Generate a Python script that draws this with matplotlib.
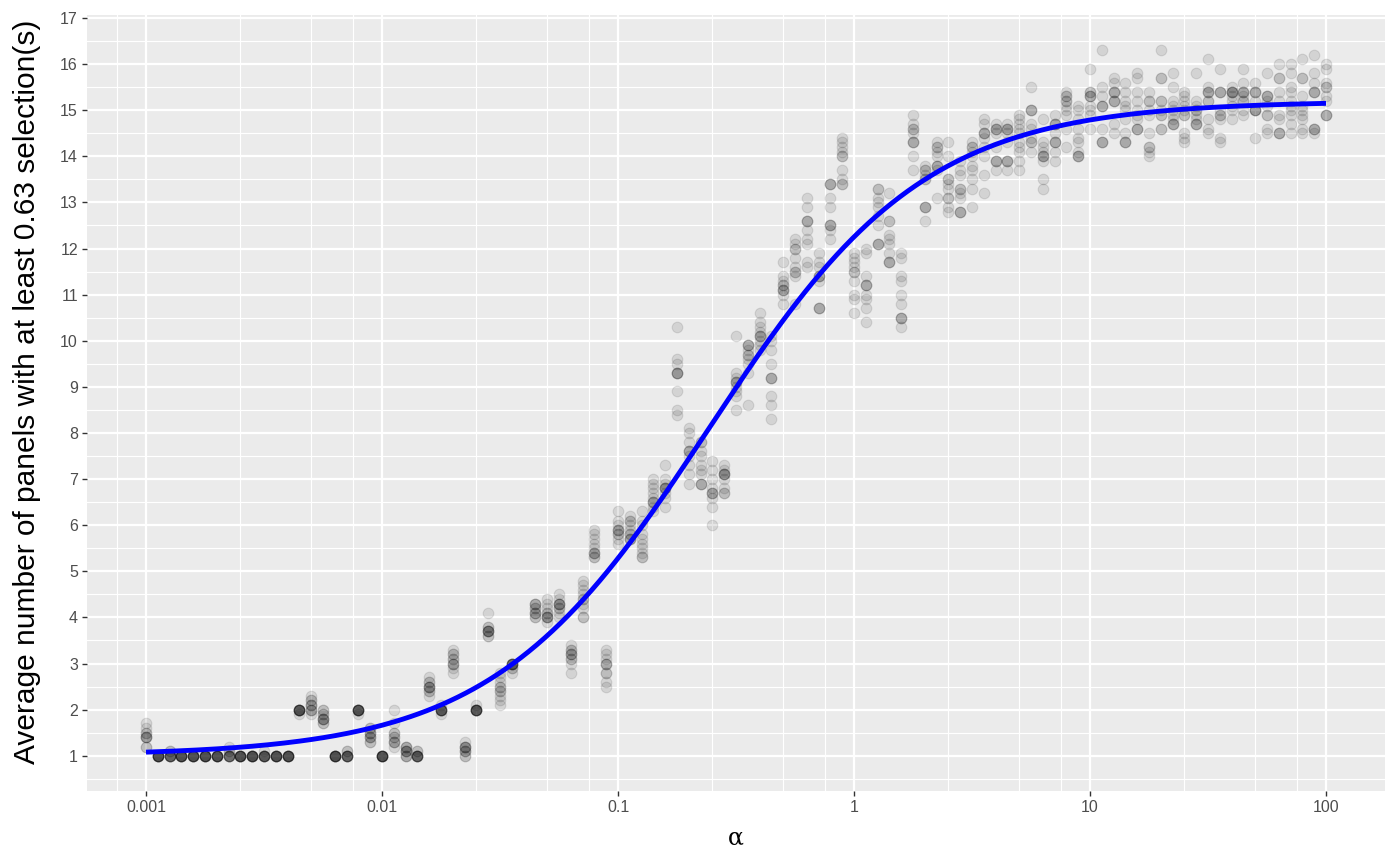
import numpy as np
import matplotlib
matplotlib.use("Agg")
import matplotlib.pyplot as plt
from matplotlib.ticker import FixedLocator, NullFormatter

# alpha grid (20 values per decade, 0.001 .. 100)
alpha = [
    0.001, 0.001122, 0.001259, 0.001413, 0.001585, 0.001778, 0.001995, 0.002239, 0.002512, 0.002818,
    0.003162, 0.003548, 0.003981, 0.004467, 0.005012, 0.005623, 0.00631, 0.007079, 0.007943, 0.008913,
    0.01, 0.01122, 0.01259, 0.01413, 0.01585, 0.01778, 0.01995, 0.02239, 0.02512, 0.02818,
    0.03162, 0.03548, 0.03981, 0.04467, 0.05012, 0.05623, 0.0631, 0.07079, 0.07943, 0.08913,
    0.1, 0.1122, 0.1259, 0.1413, 0.1585, 0.1778, 0.1995, 0.2239, 0.2512, 0.2818,
    0.3162, 0.3548, 0.3981, 0.4467, 0.5012, 0.5623, 0.631, 0.7079, 0.7943, 0.8913,
    1.0, 1.122, 1.259, 1.413, 1.585, 1.778, 1.995, 2.239, 2.512, 2.818,
    3.162, 3.548, 3.981, 4.467, 5.012, 5.623, 6.31, 7.079, 7.943, 8.913,
    10.0, 11.22, 12.59, 14.13, 15.85, 17.78, 19.95, 22.39, 25.12, 28.18,
    31.62, 35.48, 39.81, 44.67, 50.12, 56.23, 63.1, 70.79, 79.43, 89.13,
    100.0,
]

# average number of panels, 10 replicates per alpha value (none at 0.03981)
avg_panels = [
    # 0.001 - 0.01
    [1.2, 1.2, 1.4, 1.4, 1.4, 1.4, 1.5, 1.5, 1.6, 1.7],
    [1.0] * 10,
    [1.0] * 8 + [1.1, 1.1],
    [1.0] * 10,
    [1.0] * 10,
    [1.0] * 10,
    [1.0] * 10,
    [1.0] * 7 + [1.1, 1.1, 1.2],
    [1.0] * 10,
    [1.0] * 10,
    [1.0] * 9 + [1.1],
    [1.0] * 10,
    [1.0] * 10,
    [2.0] * 9 + [1.9],
    [1.9, 2.0, 2.0, 2.0, 2.1, 2.1, 2.1, 2.2, 2.2, 2.3],
    [1.7, 1.7, 1.8, 1.8, 1.8, 1.9, 1.9, 2.0, 2.0, 1.8],
    [1.0] * 10,
    [1.0] * 8 + [1.1, 1.1],
    [2.0] * 9 + [1.9],
    [1.3, 1.3, 1.4, 1.4, 1.4, 1.5, 1.5, 1.5, 1.6, 1.6],
    # 0.01 - 0.1
    [1.0] * 10,
    [1.2, 1.3, 1.3, 1.3, 1.4, 1.4, 1.5, 1.5, 1.7, 2.0],
    [1.0, 1.0, 1.0, 1.1, 1.1, 1.1, 1.2, 1.2, 1.2, 1.1],
    [1.0] * 8 + [1.1, 1.1],
    [2.3, 2.4, 2.4, 2.5, 2.5, 2.5, 2.5, 2.6, 2.6, 2.7],
    [2.0] * 8 + [2.1, 1.9],
    [2.8, 2.9, 3.0, 3.0, 3.0, 3.1, 3.1, 3.2, 3.2, 3.3],
    [1.0, 1.0, 1.1, 1.1, 1.1, 1.2, 1.2, 1.2, 1.2, 1.3],
    [2.0] * 9 + [2.1],
    [3.6, 3.6, 3.7, 3.7, 3.7, 3.7, 3.7, 3.8, 3.8, 4.1],
    [2.1, 2.2, 2.3, 2.4, 2.4, 2.5, 2.5, 2.6, 2.7, 2.8],
    [2.8, 2.9, 2.9, 3.0, 3.0, 3.0, 3.0, 3.0, 3.0, 3.0],
    [],
    [4.0, 4.0, 4.1, 4.1, 4.1, 4.2, 4.2, 4.3, 4.3, 4.3],
    [3.9, 4.0, 4.0, 4.0, 4.0, 4.1, 4.1, 4.2, 4.3, 4.4],
    [4.0, 4.1, 4.2, 4.2, 4.3, 4.3, 4.3, 4.3, 4.4, 4.5],
    [2.8, 3.0, 3.1, 3.1, 3.2, 3.2, 3.2, 3.3, 3.3, 3.4],
    [4.0, 4.0, 4.2, 4.3, 4.4, 4.4, 4.5, 4.6, 4.7, 4.8],
    [5.3, 5.3, 5.4, 5.4, 5.4, 5.5, 5.6, 5.7, 5.8, 5.9],
    [2.5, 2.6, 2.8, 2.8, 3.0, 3.0, 3.0, 3.1, 3.2, 3.3],
    # 0.1 - 1
    [5.6, 5.7, 5.8, 5.8, 5.9, 5.9, 5.9, 6.0, 6.1, 6.3],
    [5.7, 5.7, 5.7, 5.8, 5.8, 5.9, 6.0, 6.1, 6.1, 6.2],
    [5.3, 5.3, 5.4, 5.5, 5.6, 5.7, 5.8, 6.0, 6.1, 6.3],
    [6.3, 6.4, 6.5, 6.5, 6.5, 6.6, 6.7, 6.8, 6.9, 7.0],
    [6.4, 6.6, 6.7, 6.8, 6.8, 6.8, 6.8, 6.9, 7.0, 7.3],
    [8.4, 8.5, 8.9, 9.3, 9.3, 9.3, 9.3, 9.5, 9.6, 10.3],
    [6.9, 7.1, 7.3, 7.5, 7.6, 7.6, 7.6, 7.8, 8.0, 8.1],
    [6.9, 6.9, 6.9, 7.1, 7.2, 7.3, 7.5, 7.6, 7.8, 7.8],
    [6.0, 6.4, 6.6, 6.7, 6.7, 6.7, 6.8, 7.0, 7.2, 7.4],
    [6.7, 6.7, 6.8, 7.0, 7.1, 7.1, 7.1, 7.1, 7.2, 7.3],
    [8.5, 8.8, 8.9, 9.0, 9.1, 9.1, 9.1, 9.2, 9.3, 10.1],
    [8.6, 9.3, 9.5, 9.6, 9.7, 9.7, 9.8, 9.9, 9.9, 9.9],
    [9.8, 9.9, 10.0, 10.1, 10.1, 10.1, 10.2, 10.3, 10.4, 10.6],
    [8.3, 8.6, 8.8, 9.2, 9.2, 9.2, 9.5, 9.8, 10.0, 10.1],
    [10.8, 11.0, 11.1, 11.1, 11.1, 11.2, 11.2, 11.3, 11.4, 11.7],
    [10.8, 11.4, 11.5, 11.5, 11.6, 11.8, 12.0, 12.0, 12.1, 12.2],
    [11.6, 11.7, 12.1, 12.2, 12.4, 12.6, 12.6, 12.6, 12.9, 13.1],
    [10.7, 10.7, 10.7, 11.3, 11.4, 11.4, 11.4, 11.6, 11.7, 11.9],
    [12.2, 12.4, 12.5, 12.5, 12.5, 12.9, 13.1, 13.4, 13.4, 13.4],
    [13.4, 13.4, 13.5, 13.7, 14.0, 14.0, 14.1, 14.2, 14.3, 14.4],
    # 1 - 10
    [10.6, 10.9, 11.0, 11.3, 11.5, 11.5, 11.6, 11.7, 11.8, 11.9],
    [10.4, 10.7, 10.9, 11.0, 11.2, 11.2, 11.2, 11.4, 11.9, 12.0],
    [12.1, 12.1, 12.1, 12.5, 12.7, 12.9, 13.0, 13.1, 13.3, 13.3],
    [11.7, 11.7, 11.7, 11.9, 12.1, 12.2, 12.3, 12.6, 12.6, 13.2],
    [10.3, 10.5, 10.5, 10.5, 10.8, 11.0, 11.3, 11.4, 11.8, 11.9],
    [13.7, 14.0, 14.3, 14.3, 14.3, 14.5, 14.6, 14.6, 14.7, 14.9],
    [12.6, 12.9, 12.9, 12.9, 13.5, 13.5, 13.6, 13.7, 13.7, 13.8],
    [13.1, 13.7, 13.8, 13.8, 13.8, 14.0, 14.1, 14.2, 14.2, 14.3],
    [12.8, 12.9, 13.1, 13.1, 13.3, 13.4, 13.5, 13.5, 14.0, 14.3],
    [12.8, 12.8, 12.8, 13.1, 13.2, 13.3, 13.3, 13.6, 13.7, 13.9],
    [12.9, 13.3, 13.5, 13.7, 13.8, 14.0, 14.1, 14.2, 14.2, 14.3],
    [13.2, 13.6, 14.0, 14.2, 14.4, 14.5, 14.5, 14.5, 14.7, 14.8],
    [13.7, 13.9, 13.9, 13.9, 14.2, 14.5, 14.6, 14.6, 14.6, 14.7],
    [13.7, 13.9, 13.9, 13.9, 14.3, 14.5, 14.6, 14.6, 14.6, 14.7],
    [13.7, 13.9, 14.1, 14.2, 14.3, 14.5, 14.6, 14.7, 14.8, 14.9],
    [14.1, 14.3, 14.3, 14.4, 14.6, 14.7, 15.0, 15.0, 15.0, 15.5],
    [13.3, 13.5, 13.9, 14.0, 14.0, 14.0, 14.1, 14.2, 14.3, 14.8],
    [13.9, 14.1, 14.3, 14.3, 14.3, 14.5, 14.7, 14.7, 14.7, 14.9],
    [14.2, 14.6, 14.9, 15.0, 15.1, 15.2, 15.2, 15.3, 15.3, 15.4],
    [14.0, 14.0, 14.0, 14.1, 14.3, 14.4, 14.6, 14.8, 15.0, 15.1],
    # 10 - 100
    [14.6, 14.9, 15.0, 15.1, 15.3, 15.3, 15.3, 15.4, 15.4, 15.9],
    [14.3, 14.3, 14.3, 14.6, 15.1, 15.1, 15.1, 15.3, 15.5, 16.3],
    [14.5, 14.7, 15.2, 15.2, 15.2, 15.4, 15.4, 15.4, 15.6, 15.7],
    [14.3, 14.3, 14.3, 14.5, 14.8, 15.0, 15.1, 15.2, 15.4, 15.6],
    [14.6, 14.6, 14.6, 14.8, 14.9, 15.0, 15.2, 15.4, 15.7, 15.8],
    [14.0, 14.1, 14.2, 14.2, 14.5, 14.9, 15.0, 15.2, 15.2, 15.4],
    [14.6, 14.6, 14.9, 14.9, 15.0, 15.2, 15.2, 15.7, 15.7, 16.3],
    [14.7, 14.7, 14.7, 14.8, 14.9, 15.0, 15.1, 15.2, 15.5, 15.8],
    [14.3, 14.4, 14.5, 14.9, 14.9, 15.0, 15.1, 15.2, 15.3, 15.4],
    [14.7, 14.7, 14.7, 14.8, 14.9, 15.0, 15.0, 15.1, 15.2, 15.8],
    [14.5, 14.6, 14.8, 15.2, 15.2, 15.4, 15.4, 15.4, 15.5, 16.1],
    [14.3, 14.4, 14.8, 14.9, 14.9, 15.0, 15.4, 15.4, 15.4, 15.9],
    [14.8, 15.0, 15.1, 15.2, 15.3, 15.4, 15.4, 15.4, 15.4, 15.5],
    [14.9, 15.0, 15.2, 15.2, 15.3, 15.4, 15.4, 15.4, 15.6, 15.9],
    [14.4, 15.0, 15.0, 15.0, 15.0, 15.2, 15.4, 15.4, 15.4, 15.6],
    [14.5, 14.6, 14.9, 14.9, 15.1, 15.2, 15.3, 15.3, 15.3, 15.8],
    [14.5, 14.5, 14.5, 14.8, 14.9, 15.2, 15.4, 15.7, 15.7, 16.0],
    [14.5, 14.7, 14.9, 15.0, 15.1, 15.2, 15.4, 15.5, 15.8, 16.0],
    [14.5, 14.6, 14.8, 14.9, 15.0, 15.1, 15.3, 15.7, 15.7, 16.1],
    [14.5, 14.6, 14.6, 14.6, 15.4, 15.4, 15.4, 15.6, 15.8, 16.2],
    # 100
    [14.9, 14.9, 14.9, 15.2, 15.3, 15.5, 15.5, 15.6, 15.9, 16.0],
]

x_breaks = [0.001, 0.01, 0.1, 1, 10, 100]
x_labels = ["0.001", "0.01", "0.1", "1", "10", "100"]
y_breaks = list(range(1, 18))

# long format
xs = np.concatenate([[a] * len(v) for a, v in zip(alpha, avg_panels)])
ys = np.concatenate([np.asarray(v, float) for v in avg_panels if v])

# logistic in log10(alpha) with a floor of one panel, least squares
t = np.log10(xs)
floor = 1.0
best = None
for t0 in np.arange(-1.2, 0.0, 0.005):
    for k in np.arange(1.0, 4.0, 0.01):
        g = 1.0 / (1.0 + np.exp(-k * (t - t0)))
        amp = np.sum(g * (ys - floor)) / np.sum(g * g)
        sse = np.sum((floor + amp * g - ys) ** 2)
        if best is None or sse < best[0]:
            best = (sse, t0, k, amp)
_, t0, k, amp = best
t_line = np.linspace(np.log10(alpha[0]), np.log10(alpha[-1]), 300)
y_line = floor + amp / (1.0 + np.exp(-k * (t_line - t0)))

fig = plt.figure(figsize=(14, 8.66), dpi=100)
ax = fig.add_axes([87 / 1400, 75 / 866, 1298 / 1400, 776 / 866])
ax.set_facecolor("#EBEBEB")
for s in ax.spines.values():
    s.set_visible(False)

ax.scatter(xs, ys, s=58, color="black", alpha=0.1, edgecolors="black",
           linewidths=0.8, zorder=3)
ax.plot(10 ** t_line, y_line, color="#0000FF", lw=3.5, zorder=4,
        solid_capstyle="butt")

ax.set_xscale("log")
ax.set_xlim(10 ** -3.25, 10 ** 2.25)
ax.set_ylim(0.235, 17.065)

ax.xaxis.set_major_locator(FixedLocator(x_breaks))
ax.set_xticklabels(x_labels)
minor_x = [m * 10.0 ** d for d in range(-4, 3) for m in (2.5, 5, 7.5)]
ax.xaxis.set_minor_locator(FixedLocator(minor_x))
ax.xaxis.set_minor_formatter(NullFormatter())
ax.yaxis.set_major_locator(FixedLocator(y_breaks))
ax.yaxis.set_minor_locator(FixedLocator([v + 0.5 for v in range(0, 17)]))

ax.grid(which="major", color="white", lw=1.6, zorder=0)
ax.grid(which="minor", color="white", lw=0.8, zorder=0)
ax.set_axisbelow(True)
ax.tick_params(which="major", length=3.5, width=1.0, color="#333333",
               labelcolor="#4D4D4D", labelsize=11.5, pad=3)
ax.tick_params(which="minor", length=0)
for lab in ax.get_xticklabels() + ax.get_yticklabels():
    lab.set_family("Liberation Sans")

fig.text(27 / 1400, 1 - 392 / 866,
         "Average number of panels with at least 0.63 selection(s)",
         rotation=90, ha="center", va="center", fontsize=21.5,
         family="Liberation Sans", color="black")
fig.text(736 / 1400, 1 - 838 / 866, "α", ha="center", va="center",
         fontsize=17, family="DejaVu Serif", color="black")

fig.savefig("out.png", dpi=100)
